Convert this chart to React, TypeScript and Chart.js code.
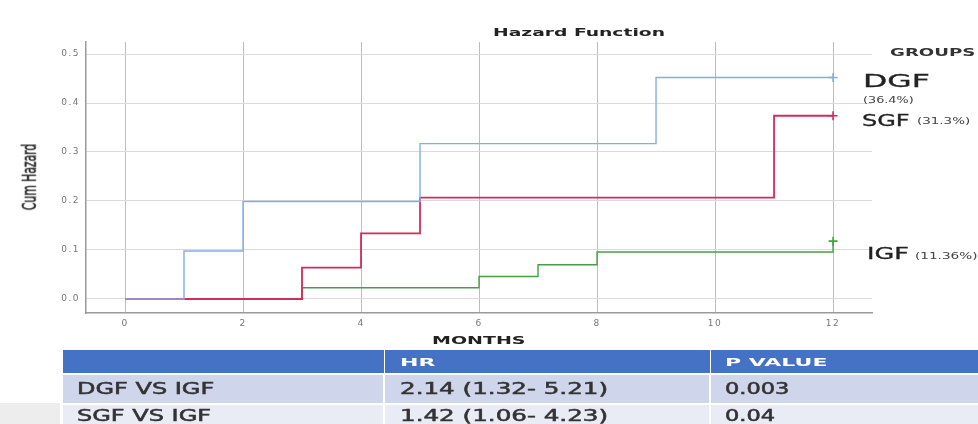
import React, { useEffect, useRef } from "react";
import { Chart, registerables } from "chart.js";

Chart.register(...registerables);

// ---- data ----
const dgfMonths = [0, 1, 2, 5, 9, 12];
const dgfHazard = [0, 0.098, 0.199, 0.317, 0.452, 0.452];
const sgfMonths = [0, 3, 4, 5, 11, 12];
const sgfHazard = [0, 0.064, 0.134, 0.207, 0.374, 0.374];
const igfMonths = [0, 3, 6, 7, 8, 12];
const igfHazard = [0, 0.023, 0.046, 0.07, 0.096, 0.118];
const censorMonths = [12, 12, 12];
const censorHazard = [0.452, 0.374, 0.118];

const xTicks = [0, 2, 4, 6, 8, 10, 12];
const yTicks = [0, 0.1, 0.2, 0.3, 0.4, 0.5];

const groupNames = ["DGF", "SGF", "IGF"];
const groupPcts = ["(36.4%)", "(31.3%)", "(11.36%)"];

const tableHeaders = ["", "HR", "P VALUE"];
const comparisons = ["DGF VS IGF", "SGF VS IGF"];
const hrValues = ["2.14 (1.32- 5.21)", "1.42 (1.06- 4.23)"];
const pValues = ["0.003", "0.04"];

const BLUE = "#86ADE3";
const RED = "#D42A5C";
const GREEN = "#45A045";

const FONT = "'DejaVu Sans', Verdana, sans-serif";

function T(props: {
  x: number;
  cy: number;
  size: number;
  sx: number;
  bold?: boolean;
  color?: string;
  stroke?: number;
  children: React.ReactNode;
}) {
  const { x, cy, size, sx, bold, color, stroke, children } = props;
  const c = color || "#222";
  return (
    <div
      style={{
        position: "absolute",
        left: x,
        top: cy - 0.48 * size,
        fontSize: size,
        lineHeight: `${size}px`,
        fontWeight: bold ? 700 : 400,
        color: c,
        whiteSpace: "nowrap",
        transform: `scaleX(${sx})`,
        transformOrigin: "left center",
        fontFamily: FONT,
        WebkitTextStroke: stroke ? `${stroke}px ${c}` : undefined,
      }}
    >
      {children}
    </div>
  );
}

function pts(xs: number[], ys: number[]) {
  return xs.map((x, i) => ({ x, y: ys[i] }));
}

export default function App() {
  const ref = useRef<HTMLCanvasElement | null>(null);

  useEffect(() => {
    document.body.style.margin = "0";
    const canvas = ref.current;
    if (!canvas) return;
    const spacingPlugin = {
      id: "spacing",
      beforeDraw(chart: any) {
        (chart.ctx as any).letterSpacing = "1.5px";
      },
      afterDraw(chart: any) {
        (chart.ctx as any).letterSpacing = "0px";
      },
    };
    const chart = new Chart(canvas, {
      type: "line",
      data: {
        datasets: [
          {
            label: "DGF",
            data: pts(dgfMonths, dgfHazard),
            borderColor: BLUE,
            borderWidth: 1.4,
            stepped: "before",
            pointRadius: 0,
            fill: false,
          },
          {
            label: "SGF",
            data: pts(sgfMonths, sgfHazard),
            borderColor: RED,
            borderWidth: 1.8,
            stepped: "before",
            pointRadius: 0,
            fill: false,
          },
          {
            label: "IGF",
            data: pts(igfMonths, igfHazard),
            borderColor: GREEN,
            borderWidth: 1.4,
            stepped: "before",
            pointRadius: 0,
            fill: false,
          },
          {
            label: "censor",
            data: pts(censorMonths, censorHazard),
            showLine: false,
            pointStyle: "cross",
            pointRadius: 4.5,
            pointBorderWidth: 1.6,
            pointBorderColor: [BLUE, RED, GREEN],
            borderColor: [BLUE, RED, GREEN] as any,
          } as any,
        ],
      },
      options: {
        responsive: false,
        animation: false,
        layout: { padding: { left: 0, top: 42, right: 106, bottom: 0 } },
        plugins: {
          legend: { display: false },
          tooltip: { enabled: false },
          title: { display: false },
        },
        scales: {
          x: {
            type: "linear",
            min: -0.661,
            max: 12.66,
            afterBuildTicks: (s: any) => {
              s.ticks = xTicks.map((v) => ({ value: v }));
            },
            afterFit: (s: any) => {
              s.height = 111;
            },
            grid: { color: "#BDBDBD", lineWidth: 1, drawTicks: false },
            border: { display: true, color: "#9A9A9A", width: 1.5 },
            ticks: {
              padding: 5,
              color: "#777",
              font: { family: FONT, size: 9 },
              maxRotation: 0,
            },
          },
          y: {
            type: "linear",
            min: -0.0286,
            max: 0.5245,
            afterBuildTicks: (s: any) => {
              s.ticks = yTicks.map((v) => ({ value: v }));
            },
            afterFit: (s: any) => {
              s.width = 86;
            },
            grid: { color: "#DADADA", lineWidth: 1, drawTicks: false },
            border: { display: true, color: "#9A9A9A", width: 1.5 },
            ticks: {
              padding: 6,
              color: "#777",
              font: { family: FONT, size: 9 },
              callback: (v: any) => Number(v).toFixed(1),
            },
          },
        },
      },
      plugins: [spacingPlugin],
    });
    return () => chart.destroy();
  }, []);

  const colLeft = [63, 385, 711];
  const colW = [322, 326, 267];
  const textX = [77, 400, 725];
  const rowTop = [375, 405];
  const rowH = [28, 24];
  const rowCy = [389, 416.5];
  const rowBg = ["#CFD5EA", "#E9EBF5"];

  return (
    <div
      style={{
        position: "relative",
        width: 978,
        height: 424,
        overflow: "hidden",
        background: "#fff",
        fontFamily: FONT,
      }}
    >
      <canvas
        ref={ref}
        width={978}
        height={424}
        style={{ position: "absolute", left: 0, top: 0, width: 978, height: 424 }}
      />

      <T x={493} cy={32.5} size={11} sx={1.7} bold>
        Hazard Function
      </T>
      <T x={432} cy={341} size={10} sx={1.9} bold>
        MONTHS
      </T>
      <div
        style={{
          position: "absolute",
          left: 29,
          top: 177,
          fontSize: 12,
          lineHeight: "12px",
          fontFamily: "'DejaVu Sans Condensed', 'DejaVu Sans', sans-serif",
          color: "#222",
          whiteSpace: "nowrap",
          WebkitTextStroke: "0.3px #222",
          transform: "translate(-50%, -50%) rotate(-90deg) scaleY(1.6)",
        }}
      >
        Cum Hazard
      </div>

      <T x={890} cy={52} size={11} sx={1.65} bold color="#333">
        GROUPS
      </T>
      <T x={863} cy={81} size={18} sx={1.75} color="#222" stroke={0.3}>
        {groupNames[0]}
      </T>
      <T x={863} cy={101} size={8} sx={1.6} color="#444">
        {groupPcts[0]}
      </T>
      <T x={862} cy={121} size={16} sx={1.5} color="#222" stroke={0.3}>
        {groupNames[1]}
      </T>
      <T x={917} cy={122} size={8} sx={1.68} color="#444">
        {groupPcts[1]}
      </T>
      <T x={867} cy={254.5} size={15} sx={1.7} color="#222" stroke={0.3}>
        {groupNames[2]}
      </T>
      <T x={915} cy={257} size={8} sx={1.7} color="#444">
        {groupPcts[2]}
      </T>

      {/* table */}
      <div
        style={{
          position: "absolute",
          left: 0,
          top: 403,
          width: 60,
          height: 21,
          background: "#EDEDED",
        }}
      />
      {colLeft.map((l, i) => (
        <div
          key={"h" + i}
          style={{
            position: "absolute",
            left: l,
            top: 350,
            width: colW[i] - (i < 2 ? 1 : 0),
            height: 23,
            background: "#4672C6",
          }}
        />
      ))}
      {tableHeaders.map((h, i) =>
        h ? (
          <T key={"ht" + i} x={textX[i]} cy={362} size={11} sx={2.0} bold color="#fff">
            {h}
          </T>
        ) : null
      )}
      {comparisons.map((c, r) => (
        <React.Fragment key={"r" + r}>
          {colLeft.map((l, i) => (
            <div
              key={"c" + i}
              style={{
                position: "absolute",
                left: l,
                top: rowTop[r],
                width: colW[i] - (i < 2 ? 2 : 0),
                height: rowH[r],
                background: rowBg[r],
              }}
            />
          ))}
          <T x={textX[0]} cy={rowCy[r]} size={15} sx={1.6} color="#333" stroke={0.5}>
            {c}
          </T>
          <T x={textX[1]} cy={rowCy[r]} size={15} sx={1.64} color="#333" stroke={0.5}>
            {hrValues[r]}
          </T>
          <T x={textX[2]} cy={rowCy[r]} size={15} sx={1.5} color="#333" stroke={0.5}>
            {pValues[r]}
          </T>
        </React.Fragment>
      ))}
    </div>
  );
}
